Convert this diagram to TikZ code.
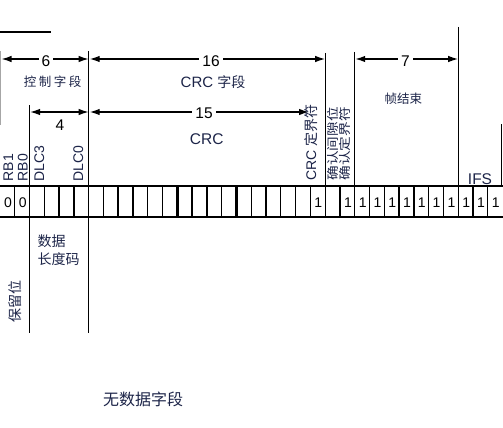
\documentclass[tikz,border=0pt]{standalone}
\usepackage{fontspec}
\setmainfont{Liberation Sans}
\newfontfamily\cjk{Noto Sans CJK SC}
\usetikzlibrary{arrows.meta}
\definecolor{labc}{RGB}{28,36,72}
\begin{document}
\begin{tikzpicture}[x=1pt,y=-1pt,line width=1.3pt,
  dimline/.style={{Latex[length=10pt,width=6.5pt]}-{Latex[length=10pt,width=6.5pt]}},
  num/.style={inner sep=0pt,font=\fontsize{15.5}{15.5}\selectfont},
  numbg/.style={num,fill=white,inner xsep=3pt,inner ysep=1pt},
  bit/.style={inner sep=0pt,font=\fontsize{14}{14}\selectfont},
  vlab/.style={inner sep=0pt,rotate=90,anchor=west,text=labc,font=\fontsize{14}{14}\selectfont},
  lab/.style={inner sep=0pt,text=labc},
  thickcell/.style={line width=2.3pt}]
\useasboundingbox (0,0) rectangle (503,428);
\def\w{14.78}
% bit row
\draw (0,186) -- (503,186);
\draw (0,217) -- (503,217);
\foreach \i in {1,...,33}{
  \ifnum\i=8 \def\st{thickcell}\else\ifnum\i=12 \def\st{thickcell}\else\ifnum\i=16 \def\st{thickcell}\else\ifnum\i=28 \def\st{thickcell}\else\def\st{}\fi\fi\fi\fi
  \draw[\st] (\i*\w,186) -- (\i*\w,217);
}
\foreach \i/\b in {0/0,1/0,21/1,23/1,24/1,25/1,26/1,27/1,28/1,29/1,30/1,31/1,32/1,33/1}
  \node[bit] (b\i) at ({(\i+0.5)*\w+0.6},203) {\b};
% vertical boundary lines above the row
\draw[gray!70,line width=1pt] (0.6,51) -- (0.6,125);
\draw (0,32) -- (51,32);
\coordinate (l2t) at (2*\w,105);   \coordinate (l2b) at (2*\w,186);
\coordinate (l6t) at (6*\w,51);    \coordinate (l6b) at (6*\w,186);
\coordinate (l22t) at (22*\w,53);  \coordinate (l22b) at (22*\w,186);
\coordinate (l24t) at (24*\w,52);  \coordinate (l24b) at (24*\w,186);
\coordinate (l31t) at (31*\w,27);  \coordinate (l31b) at (31*\w,186);
\coordinate (l34t) at (501.8,124); \coordinate (l34b) at (501.8,186);
\draw (l2t) -- (l2b);
\draw (l6t) -- (l6b);
\draw (l22t) -- (l22b);
\draw (l24t) -- (l24b);
\draw (l31t) -- (l31b);
\draw (l34t) -- (l34b);
% lines below the row
\coordinate (d2t) at (2*\w,217); \coordinate (d2b) at (2*\w,333);
\coordinate (d6t) at (6*\w,217); \coordinate (d6b) at (6*\w,333);
\draw (d2t) -- (d2b);
\draw (d6t) -- (d6b);
% dimension arrows
\coordinate (a6l) at (1.5,59);   \coordinate (a6r) at (6*\w,59);
\coordinate (a16l) at (6*\w+1,59); \coordinate (a16r) at (22*\w,59);
\coordinate (a4l) at (2*\w+0.5,112); \coordinate (a4r) at (6*\w,112);
\coordinate (a15l) at (6*\w+1,112); \coordinate (a15r) at (309,112);
\coordinate (a7l) at (24*\w+0.5,59); \coordinate (a7r) at (31*\w,59);
\draw[dimline] (a6l) -- (a6r);
\draw[dimline] (a16l) -- (a16r);
\draw[dimline] (a4l) -- (a4r);
\draw[dimline] (a15l) -- (a15r);
\draw[dimline] (a7l) -- (a7r);
\node[numbg] (n6) at (46,61) {6};
\node[numbg] (n16) at (211,61) {16};
\node[num] (n4) at (60,125) {4};
\node[numbg] (n15) at (204,113.5) {15};
\node[numbg] (n7) at (405.5,61.5) {7};
% field labels
\node[lab,font=\cjk\fontsize{12.5}{12.5}\selectfont] (ctl) at (52.7,82) {控\hspace{2.5pt}制\hspace{2.5pt}字\hspace{2.5pt}段};
\node[lab,font=\fontsize{15}{15}\selectfont] (crcf) at (213,82) {CRC {\cjk\fontsize{14}{14}\selectfont 字段}};
\node[lab,font=\fontsize{15.5}{15.5}\selectfont] (crc) at (206.7,139.5) {CRC};
\node[lab,font=\cjk\fontsize{12.5}{12.5}\selectfont] (eof) at (403.3,99) {帧结束};
\node[lab,font=\fontsize{15.5}{15.5}\selectfont] (ifs) at (480,179.5) {IFS};
% vertical bit labels
\node[vlab] (rb1) at (8.3,182) {RB1};
\node[vlab] (rb0) at (22.7,182) {RB0};
\node[vlab] (dlc3) at (39.3,182) {DLC3};
\node[vlab] (dlc0) at (78.3,182) {DLC0};
\node[vlab] (crcd) at (310.7,181) {CRC {\cjk 定界符}};
\node[vlab,font=\cjk\fontsize{12}{12}\selectfont] (ackslot) at (332.7,181) {\scalebox{1.22}[1]{确认间隙位}};
\node[vlab,font=\cjk\fontsize{12}{12}\selectfont] (ackdel) at (345.2,181) {\scalebox{1.22}[1]{确认定界符}};
% below
\node[lab,anchor=west,font=\cjk\fontsize{14}{14}\selectfont] (dl1) at (37,240.7) {数据};
\node[lab,anchor=west,font=\cjk\fontsize{14}{14}\selectfont] (dl2) at (37,259.3) {长度码};
\node[lab,rotate=90,font=\cjk\fontsize{14}{14}\selectfont] (rsv) at (15,301) {保留位};
\node[lab,font=\cjk\fontsize{16}{16}\selectfont] (nodata) at (143,399) {无数据字段};
\end{tikzpicture}
\end{document}
